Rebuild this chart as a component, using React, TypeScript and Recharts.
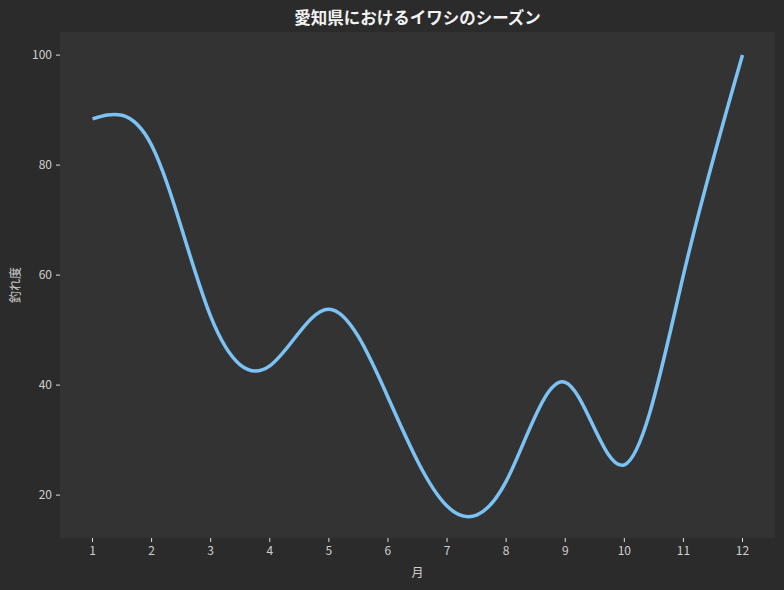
import React from 'react';
import { LineChart, Line, XAxis, YAxis, CartesianGrid } from 'recharts';

const months = [1, 2, 3, 4, 5, 6, 7, 8, 9, 10, 11, 12];
const catchScore = [88.4, 83.6, 52.5, 43.5, 53.8, 37.8, 18, 22.5, 40.5, 25.5, 60, 100];
const xTicks = [1, 2, 3, 4, 5, 6, 7, 8, 9, 10, 11, 12];
const yTicks = [20, 40, 60, 80, 100];

const data = months.map((m, i) => ({ month: m, score: catchScore[i] }));

const FONT = '"Noto Sans CJK JP", "Noto Sans", sans-serif';
const tickStyle = { fontSize: 12, fill: '#cfcfcf', fontFamily: FONT };

export default function App() {
  return (
    <div style={{ position: 'absolute', left: 0, top: 0, width: 784, height: 590, background: '#2b2b2b', fontFamily: FONT }}>
      <div style={{ position: 'absolute', top: 5, left: 60, width: 715, textAlign: 'center', color: '#f2f2f2', fontSize: 16.5, fontWeight: 'bold' }}>
        愛知県におけるイワシのシーズン
      </div>
      <LineChart width={784} height={590} data={data} margin={{ top: 32, right: 9, bottom: 0, left: 0 }}>
        <CartesianGrid fill="#333333" stroke="none" horizontal={false} vertical={false} />
        <XAxis
          dataKey="month"
          type="number"
          domain={[0.45, 12.55]}
          ticks={xTicks}
          height={52}
          axisLine={false}
          tickSize={4}
          tickMargin={4}
          tickLine={{ stroke: '#dddddd' }}
          tick={tickStyle}
          label={{ value: '月', position: 'insideBottom', offset: 13, fill: '#cfcfcf', fontSize: 12, fontFamily: FONT }}
        />
        <YAxis
          type="number"
          domain={[12.2, 104.2]}
          ticks={yTicks}
          width={60}
          axisLine={false}
          tickSize={4}
          tickMargin={4}
          tickLine={{ stroke: '#dddddd' }}
          tick={tickStyle}
          label={{ value: '釣れ度', angle: -90, position: 'insideLeft', offset: 16, fill: '#cfcfcf', fontSize: 12, fontFamily: FONT, style: { textAnchor: 'middle' } }}
        />
        <Line
          dataKey="score"
          type="natural"
          stroke="#7cc3f5"
          strokeWidth={3.5}
          dot={false}
          activeDot={false}
          isAnimationActive={false}
        />
      </LineChart>
    </div>
  );
}
